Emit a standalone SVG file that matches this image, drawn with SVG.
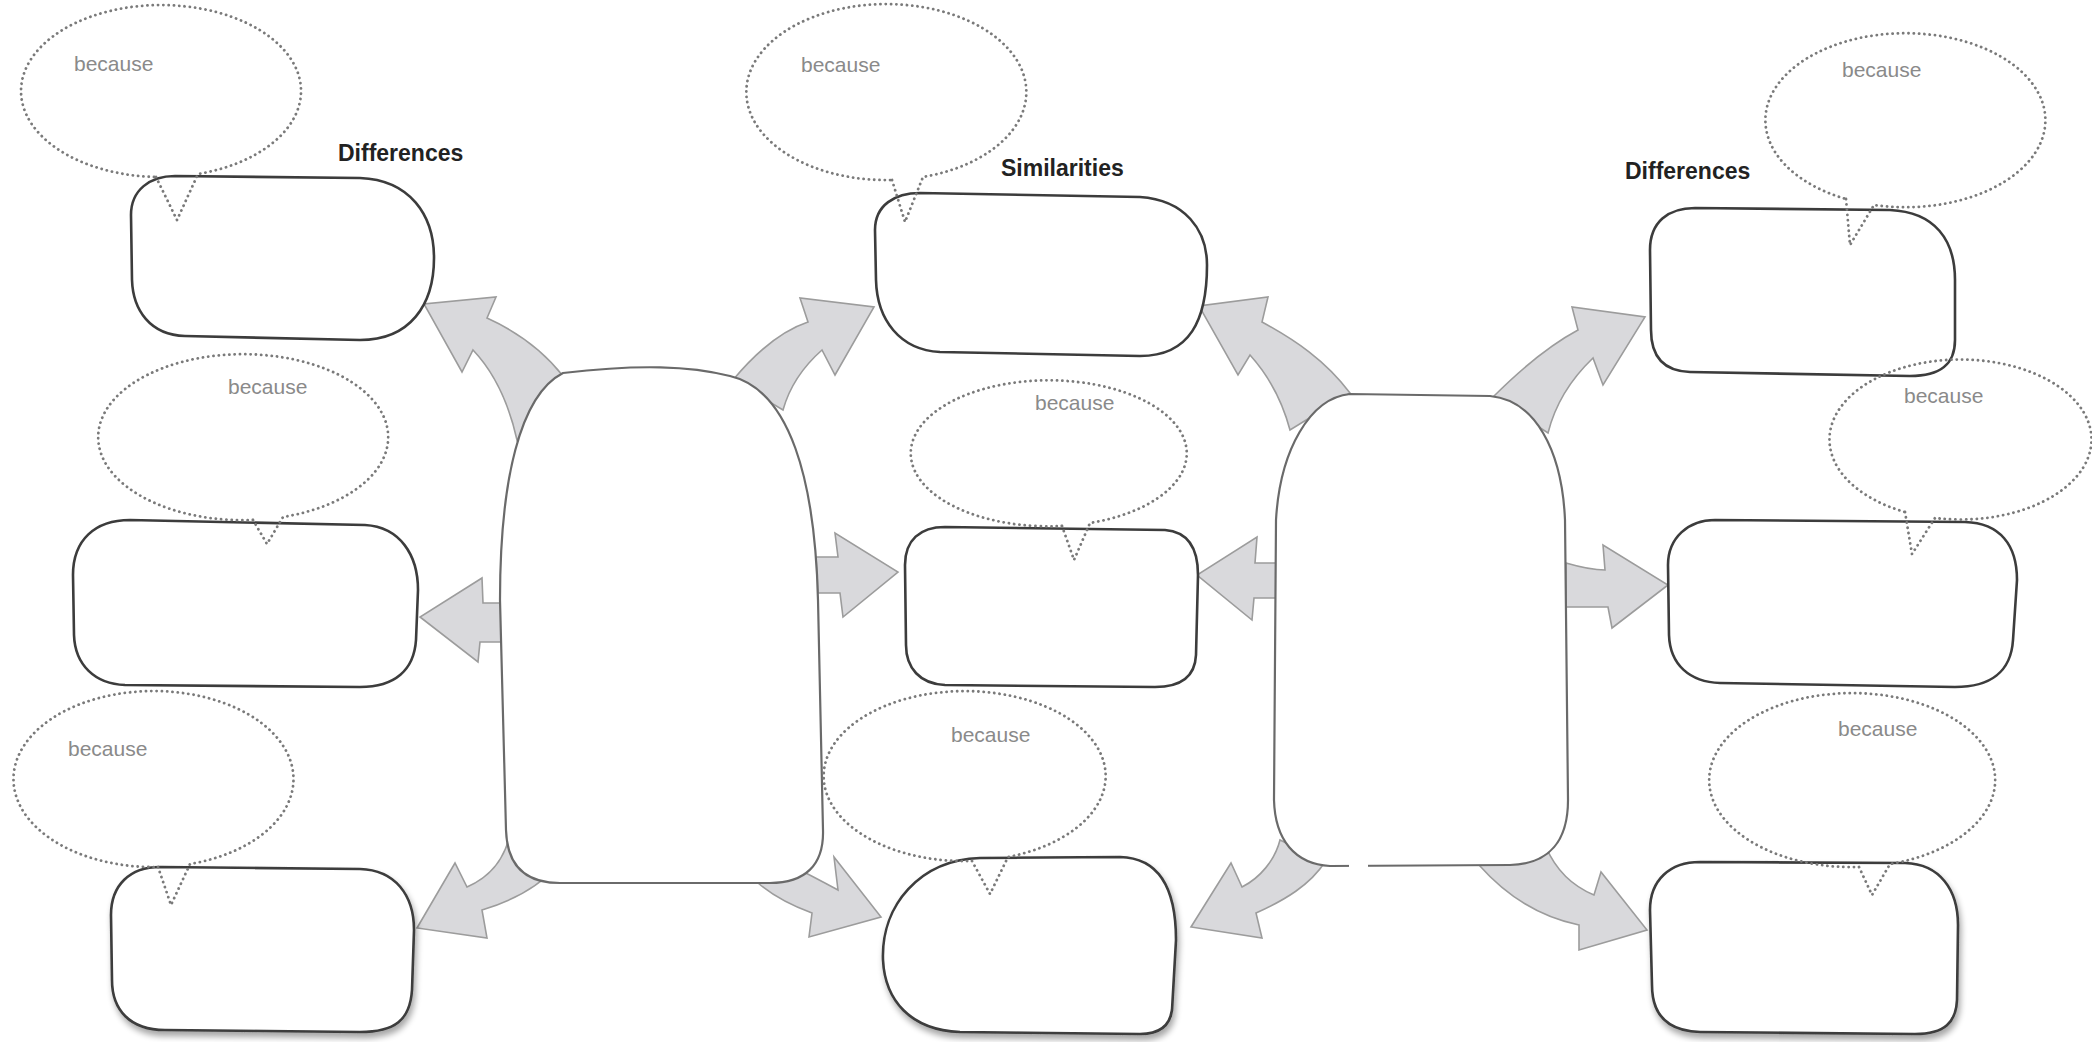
<svg xmlns="http://www.w3.org/2000/svg" width="2092" height="1042" viewBox="0 0 2092 1042">
<style>
.box{fill:#fff;stroke:#3c3c3c;stroke-width:2.6;stroke-linejoin:round}
.main{fill:#fff;stroke:#6a6a6a;stroke-width:2.2}
.bub{fill:none;stroke:#7a7a7a;stroke-width:2.8;stroke-dasharray:0.1 5.2;stroke-linecap:round}
.arr{fill:#d9d9dc;stroke:#9c9c9c;stroke-width:1.6;stroke-linejoin:miter}
.bc{font-family:"Liberation Sans",Arial,sans-serif;font-size:21px;fill:#8a8a8a}
.hd{font-family:"Liberation Sans",Arial,sans-serif;font-size:23px;font-weight:bold;fill:#222}
</style>
<defs>
<filter id="shadow" x="-10%" y="-10%" width="125%" height="130%">
<feGaussianBlur in="SourceAlpha" stdDeviation="3"/>
<feOffset dx="2" dy="5" result="o"/>
<feComponentTransfer><feFuncA type="linear" slope="0.35"/></feComponentTransfer>
<feMerge><feMergeNode/><feMergeNode in="SourceGraphic"/></feMerge>
</filter>
</defs>
<rect width="2092" height="1042" fill="#fff"/>

<g id="connectors">
<path class="arr" d="M 517 440 C 508 400 492 370 473 350 L 462 372 L 424 304 L 496 297 L 487 318 C 520 333 545 353 563 376 Z"/>
<path class="arr" d="M 733 380 C 758 350 784 330 808 322 L 800 298 L 874 307 L 835 375 L 822 350 C 805 365 790 385 783 410 Z"/>
<path class="arr" d="M 502 603 L 483 603 L 482 578 L 420 617 L 478 662 L 480 642 L 502 642 Z"/>
<path class="arr" d="M 816 557 L 838 557 L 835 533 L 898 572 L 843 617 L 840 593 L 818 593 Z"/>
<path class="arr" d="M 513 810 C 512 850 495 875 467 887 L 455 863 L 417 928 L 487 938 L 482 910 C 515 900 540 885 556 867 Z"/>
<path class="arr" d="M 794 867 C 810 875 825 883 838 890 L 834 857 L 881 917 L 809 937 L 812 913 C 790 905 772 895 758 883 Z"/>
<path class="arr" d="M 1290 430 C 1282 400 1268 375 1250 355 L 1238 375 L 1199 306 L 1268 297 L 1262 322 C 1295 340 1325 360 1350 393 Z"/>
<path class="arr" d="M 1493 397 C 1520 370 1550 345 1578 330 L 1572 307 L 1645 317 L 1603 385 L 1593 358 C 1570 380 1555 405 1548 433 Z"/>
<path class="arr" d="M 1277 563 L 1255 563 L 1257 537 L 1197 575 L 1252 620 L 1254 598 L 1277 598 Z"/>
<path class="arr" d="M 1566 563 Q 1590 570 1605 570 L 1603 545 L 1668 585 L 1612 628 L 1608 607 L 1566 607 Z"/>
<path class="arr" d="M 1280 840 C 1275 860 1260 878 1242 887 L 1231 863 L 1191 927 L 1262 938 L 1256 913 C 1285 900 1310 885 1325 862 Z"/>
<path class="arr" d="M 1479 865 C 1510 900 1545 918 1579 925 L 1579 950 L 1647 930 L 1601 872 L 1594 895 C 1570 885 1555 868 1546 847 Z"/>
</g>

<g id="center-left">
<path class="main" d="M 563 373 C 640 364 690 366 730 376 C 790 390 815 480 818 600 L 823 830 C 824 865 805 883 770 883 L 560 883 C 525 883 507 865 506 830 L 500 600 C 500 480 520 395 563 373 Z"/>
</g>
<g id="center-right">
<path class="main" d="M 1350 394 L 1490 396 C 1535 400 1562 450 1565 520 L 1568 800 C 1568 840 1550 864 1510 865 L 1330 866 C 1295 864 1275 840 1274 800 L 1276 520 C 1280 450 1310 398 1350 394 Z"/>
<rect x="1349" y="861" width="19" height="9" fill="#fff"/>
</g>

<g id="box-tl"><path class="box" d="M 175 176 L 360 178 C 410 180 434 215 434 258 C 434 305 410 340 360 340 L 185 336 C 150 335 133 310 132 280 L 131 215 C 131 190 150 176 175 176 Z"/></g>
<g id="box-ml"><path class="box" d="M 130 520 L 365 525 C 400 527 418 555 418 590 L 416 640 C 414 670 395 687 360 687 L 125 685 C 95 684 75 665 74 635 L 73 575 C 73 540 95 520 130 520 Z"/></g>
<g id="box-bl"><path class="box" filter="url(#shadow)" d="M 160 867 L 360 869 C 395 870 414 895 414 930 L 412 990 C 410 1020 395 1032 360 1032 L 165 1030 C 130 1030 112 1010 112 980 L 111 915 C 111 885 130 867 160 867 Z"/></g>
<g id="box-tm"><path class="box" d="M 920 193 L 1140 197 C 1185 200 1207 230 1207 265 C 1207 320 1190 356 1140 356 L 940 352 C 900 350 877 320 876 280 L 875 230 C 875 205 895 193 920 193 Z"/></g>
<g id="box-mm"><path class="box" d="M 945 527 L 1165 530 C 1190 532 1198 550 1198 575 L 1196 655 C 1195 677 1180 687 1155 687 L 945 685 C 920 684 906 668 906 645 L 905 565 C 905 540 920 527 945 527 Z"/></g>
<g id="box-bm"><path class="box" filter="url(#shadow)" d="M 980 858 L 1120 857 C 1160 858 1176 890 1176 940 L 1172 1010 C 1170 1025 1160 1034 1140 1034 L 960 1032 C 910 1030 885 1000 883 960 C 881 905 920 860 980 858 Z"/></g>
<g id="box-tr"><path class="box" d="M 1695 208 L 1890 210 C 1935 212 1955 240 1955 280 L 1955 340 C 1955 365 1940 376 1910 376 L 1690 372 C 1662 371 1651 355 1651 330 L 1650 250 C 1650 222 1668 208 1695 208 Z"/></g>
<g id="box-mr"><path class="box" d="M 1715 520 L 1965 522 C 2000 523 2017 545 2017 580 L 2013 640 C 2011 672 1990 687 1955 687 L 1720 683 C 1690 682 1670 665 1669 635 L 1668 565 C 1668 538 1688 520 1715 520 Z"/></g>
<g id="box-br"><path class="box" filter="url(#shadow)" d="M 1700 862 L 1905 863 C 1940 864 1958 890 1958 925 L 1957 1000 C 1956 1022 1945 1034 1915 1034 L 1700 1032 C 1668 1031 1652 1015 1652 985 L 1650 910 C 1650 880 1670 862 1700 862 Z"/></g>

<g id="bubble-tl"><path class="bub" d="M 156 177 L 177 220 L 198 174 A 140 86 0 1 0 156 177"/><text class="bc" x="74" y="71">because</text></g>
<g id="bubble-ml"><path class="bub" d="M 253 520 L 267 544 L 283 517 A 145 83 0 1 0 253 520"/><text class="bc" x="228" y="394">because</text></g>
<g id="bubble-bl"><path class="bub" d="M 158 867 L 171 905 L 190 864 A 140 88 0 1 0 158 867"/><text class="bc" x="68" y="756">because</text></g>
<g id="bubble-tm"><path class="bub" d="M 892 180 L 905 222 L 923 177 A 140 88 0 1 0 892 180"/><text class="bc" x="801" y="72">because</text></g>
<g id="bubble-mm"><path class="bub" d="M 1062 526 L 1074 560 L 1090 523 A 138 73 0 1 0 1062 526"/><text class="bc" x="1035" y="410">because</text></g>
<g id="bubble-bm"><path class="bub" d="M 972 861 L 990 894 L 1008 857 A 141 85 0 1 0 972 861"/><text class="bc" x="951" y="742">because</text></g>
<g id="bubble-tr"><path class="bub" d="M 1846 199 L 1850 245 L 1874 205 A 140 87 0 1 0 1846 199"/><text class="bc" x="1842" y="77">because</text></g>
<g id="bubble-mr"><path class="bub" d="M 1905 512 L 1912 554 L 1935 518 A 131 80 0 1 0 1905 512"/><text class="bc" x="1904" y="403">because</text></g>
<g id="bubble-br"><path class="bub" d="M 1859 867 L 1872 895 L 1890 864 A 143 87 0 1 0 1859 867"/><text class="bc" x="1838" y="736">because</text></g>

<g id="labels">
<text class="hd" x="338" y="161">Differences</text>
<text class="hd" x="1001" y="176">Similarities</text>
<text class="hd" x="1625" y="179">Differences</text>
</g>
</svg>
